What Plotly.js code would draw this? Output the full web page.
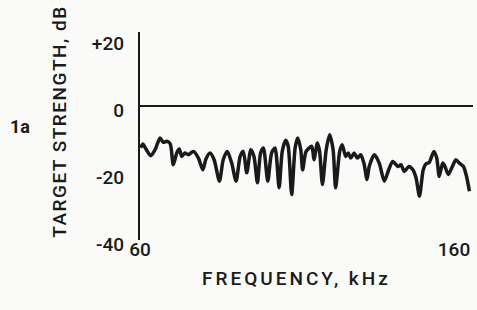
<!DOCTYPE html>
<html>
<head>
<meta charset="utf-8">
<script src="https://cdn.plot.ly/plotly-3.0.1.min.js"></script>
<style>
html,body{margin:0;padding:0;background:#fafaf8;}
#chart{width:477px;height:310px;}
.annotation[data-index="0"] text{letter-spacing:1.5px;}
.annotation[data-index="1"] text{letter-spacing:3px;}
</style>
</head>
<body>
<div id="chart"></div>
<script>
// Frequency (kHz) and target strength (dB)
const frequencyKHz = [60.2,60.9,61.9,63.4,64.8,66.4,67.4,68.5,69.6,70.6,71.7,72.5,73.3,74.3,75.4,77.0,78.6,80.0,81.0,82.3,83.6,85.3,86.5,87.8,89.2,90.6,91.9,92.9,94.0,95.3,96.3,97.4,98.4,99.3,100.7,101.9,103.0,104.3,105.3,106.4,107.2,108.3,109.4,110.2,111.2,111.8,112.9,114.7,115.4,116.5,117.2,118.1,119.3,120.4,121.5,122.3,123.6,124.4,125.5,126.3,127.1,128.2,129.2,130.3,131.3,132.3,133.0,134.6,136.2,137.8,139.2,140.5,142.1,143.1,144.2,145.6,146.9,147.9,149.0,150.2,151.1,152.1,153.6,154.5,155.3,156.4,157.1,158.2,159.3,160.6,161.7,163.0,164.0,164.9];
const targetStrengthDB = [-12.4,-11.3,-12.8,-14.8,-13.0,-9.5,-10.8,-10.5,-11.2,-17.5,-14.0,-12.8,-15.0,-14.0,-14.5,-13.5,-15.5,-19.0,-15.8,-14.0,-16.0,-22.4,-16.0,-13.5,-17.0,-22.4,-15.0,-13.5,-19.9,-13.0,-15.0,-22.9,-14.0,-12.5,-22.4,-14.0,-12.5,-24.4,-13.5,-10.2,-12.0,-26.4,-12.5,-9.5,-13.0,-19.0,-13.5,-12.0,-16.0,-11.0,-13.5,-23.4,-13.0,-8.5,-13.0,-24.4,-13.5,-11.5,-15.0,-14.0,-15.5,-14.0,-15.5,-14.5,-17.0,-21.9,-18.0,-14.5,-17.0,-22.4,-19.0,-16.5,-18.0,-17.5,-19.5,-18.0,-19.0,-21.4,-26.9,-19.0,-17.2,-16.8,-13.5,-15.5,-21.0,-17.0,-18.0,-20.4,-18.4,-16.0,-17.0,-18.0,-21.0,-25.4];
const xTickVals = [60, 160];
const xTickText = ['60', '160'];
const yTickVals = [20, 0, -20, -40];
const yTickText = ['+20', '0', '-20', '-40'];
const xTitle = 'FREQUENCY, kHz';
const yTitle = 'TARGET STRENGTH, dB';
const panelLabel = '1a';

const ink = '#1a1a1a';
const bg = '#fafaf8';
const fontFamily = 'Roboto, "Liberation Sans", Arial, sans-serif';
const textFont = {family: fontFamily, size: 19, color: ink, weight: 500};

const trace = {
  x: frequencyKHz,
  y: targetStrengthDB,
  type: 'scatter',
  mode: 'lines',
  line: {color: ink, width: 3.5, shape: 'spline', smoothing: 0.7},
  hoverinfo: 'skip'
};

const layout = {
  width: 477,
  height: 310,
  margin: {l: 140, r: 4, t: 32, b: 70},
  paper_bgcolor: bg,
  plot_bgcolor: bg,
  showlegend: false,
  font: textFont,
  xaxis: {
    range: [60, 166.05],
    tickvals: xTickVals,
    ticktext: xTickText,
    ticks: '',
    showgrid: false,
    showline: false,
    zeroline: false,
    ticklabelstandoff: -4,
    tickfont: textFont,
    automargin: false,
    fixedrange: true
  },
  yaxis: {
    range: [-40, 22.2],
    tickvals: yTickVals,
    ticktext: yTickText,
    ticks: '',
    showgrid: false,
    showline: true,
    linecolor: ink,
    linewidth: 2.2,
    zeroline: true,
    zerolinecolor: ink,
    zerolinewidth: 2,
    ticklabelstandoff: 10,
    ticklabelshift: 4,
    tickfont: textFont,
    automargin: false,
    fixedrange: true
  },
  annotations: [
    {
      text: yTitle, textangle: -90,
      xref: 'paper', yref: 'paper', x: -0.2432, y: 0.5697,
      xanchor: 'center', yanchor: 'middle', showarrow: false,
      font: textFont
    },
    {
      text: xTitle,
      xref: 'paper', yref: 'paper', x: 0.4685, y: -0.1827,
      xanchor: 'center', yanchor: 'middle', showarrow: false,
      font: textFont
    },
    {
      text: '<b>' + panelLabel + '</b>',
      xref: 'paper', yref: 'paper', x: -0.3604, y: 0.548,
      xanchor: 'center', yanchor: 'middle', showarrow: false,
      font: {family: fontFamily, size: 18, color: ink, weight: 900}
    }
  ]
};

Plotly.newPlot('chart', [trace], layout, {displayModeBar: false, staticPlot: true});
</script>
</body>
</html>
